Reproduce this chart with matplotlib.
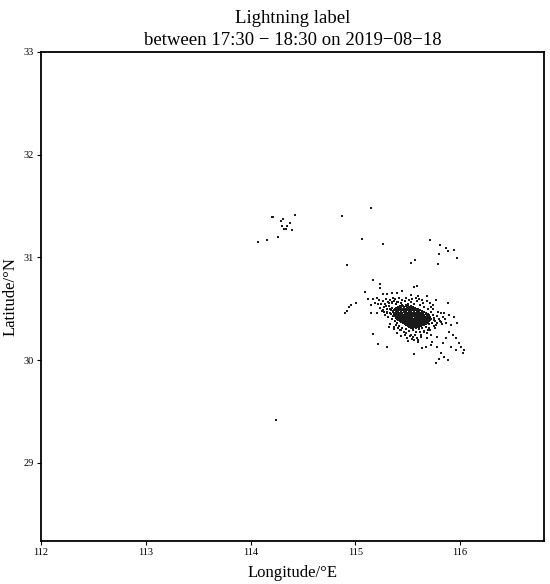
import matplotlib
matplotlib.use("Agg")
import matplotlib.pyplot as plt

# scattered strokes
scatter_lon = [
    114.20, 114.21, 114.311, 114.291, 114.423, 114.375, 114.304, 114.352,
    114.323, 114.342, 114.394, 114.260, 114.154, 114.071,
    114.870, 115.152, 115.068, 115.260, 114.924,
    115.708, 115.809, 115.867, 115.938, 115.880, 115.797, 115.966, 115.787,
    115.567, 115.528, 115.171, 115.231, 115.231, 115.560, 115.593,
    114.24,
    115.094, 115.263, 115.305, 115.353, 115.394, 115.449, 115.528, 115.598,
    115.688, 115.123, 115.171, 115.209, 115.768, 115.880, 115.011,
    114.960, 114.937, 114.898, 114.921,
    115.145, 115.186, 115.241, 115.289, 115.321, 115.353, 115.401,
    115.145, 115.209, 115.272, 115.305, 115.330,
    115.848, 115.896, 115.944, 115.752, 115.816, 115.864, 115.912, 115.969,
    115.171, 115.321, 115.368, 115.432, 115.480, 115.528, 115.560, 115.598,
    115.219, 115.305, 115.560, 115.640, 115.672, 115.720, 115.784, 115.832,
    115.816, 115.848, 115.880, 115.800, 115.768,
    115.912, 115.960, 116.008, 115.992, 116.024, 116.039,
    115.656, 115.720, 115.784, 115.688, 115.736, 115.624,
    115.896, 115.928, 115.864, 115.960,
]
scatter_lat = [
    31.397, 31.397, 31.375, 31.355, 31.414, 31.336, 31.310, 31.310,
    31.277, 31.277, 31.268, 31.197, 31.167, 31.148,
    31.407, 31.479, 31.177, 31.128, 30.927,
    31.167, 31.119, 31.095, 31.076, 31.066, 31.031, 30.998, 30.940,
    30.979, 30.949, 30.781, 30.739, 30.706, 30.716, 30.726,
    29.42,
    30.667, 30.645, 30.645, 30.652, 30.657, 30.671, 30.632, 30.625,
    30.625, 30.593, 30.593, 30.603, 30.586, 30.560, 30.560,
    30.538, 30.515, 30.463, 30.482,
    30.538, 30.554, 30.544, 30.528, 30.554, 30.570, 30.570,
    30.457, 30.463, 30.473, 30.457, 30.496,
    30.457, 30.440, 30.424, 30.392, 30.375, 30.360, 30.343, 30.365,
    30.255, 30.320, 30.301, 30.294, 30.262, 30.246, 30.197, 30.181,
    30.158, 30.132, 30.061, 30.116, 30.126, 30.148, 30.132, 30.165,
    30.068, 30.029, 30.003, 30.009, 29.970,
    30.132, 30.100, 30.126, 30.165, 30.068, 30.100,
    30.278, 30.246, 30.229, 30.213, 30.181, 30.229,
    30.278, 30.246, 30.213, 30.213,
]

# halo around the dense core
halo_lon = [
    115.26, 115.29, 115.31, 115.33, 115.35, 115.37, 115.39, 115.41, 115.44,
    115.47, 115.50, 115.53, 115.56, 115.59, 115.62, 115.65, 115.27, 115.30,
    115.32, 115.34, 115.33, 115.35, 115.30, 115.28,
    115.72, 115.74, 115.75, 115.76, 115.73, 115.70, 115.78, 115.80, 115.77,
    115.69, 115.66, 115.72, 115.79,
    115.40, 115.38, 115.42, 115.45, 115.48, 115.51, 115.55, 115.58, 115.61,
    115.64, 115.67, 115.70, 115.62, 115.66, 115.57, 115.52, 115.46, 115.43,
    115.35, 115.36,
    # second pass, looser ring
    115.22, 115.24, 115.25, 115.28, 115.23, 115.36, 115.38, 115.42, 115.45,
    115.48, 115.51, 115.54, 115.58, 115.61, 115.64, 115.68, 115.71, 115.74,
    115.82, 115.84, 115.81, 115.78, 115.75, 115.71, 115.68, 115.63, 115.59,
    115.54, 115.49, 115.44, 115.40, 115.37, 115.33, 115.31, 115.29, 115.26,
    115.34, 115.39, 115.47, 115.55, 115.63, 115.69, 115.76, 115.83, 115.86,
    115.74, 115.60, 115.50, 115.41,
]
halo_lat = [
    30.58, 30.60, 30.57, 30.59, 30.56, 30.58, 30.55, 30.57, 30.56,
    30.58, 30.55, 30.57, 30.55, 30.58, 30.54, 30.56, 30.52, 30.50,
    30.53, 30.49, 30.46, 30.51, 30.47, 30.44,
    30.47, 30.44, 30.41, 30.38, 30.36, 30.35, 30.43, 30.40, 30.34,
    30.50, 30.52, 30.52, 30.47,
    30.36, 30.38, 30.33, 30.31, 30.30, 30.28, 30.29, 30.27, 30.30,
    30.31, 30.32, 30.31, 30.27, 30.28, 30.25, 30.24, 30.27, 30.29,
    30.40, 30.43,
    30.55, 30.51, 30.48, 30.55, 30.59, 30.61, 30.60, 30.61, 30.59,
    30.61, 30.59, 30.60, 30.61, 30.60, 30.59, 30.58, 30.56, 30.54,
    30.46, 30.42, 30.38, 30.36, 30.33, 30.29, 30.26, 30.24, 30.22,
    30.21, 30.22, 30.24, 30.26, 30.32, 30.35, 30.42, 30.53, 30.49,
    30.45, 30.34, 30.25, 30.23, 30.25, 30.29, 30.31, 30.35, 30.40,
    30.50, 30.20, 30.19, 30.31,
]

# dense core, row by row (latitude, longitudes)
core_rows = [
    (30.54, [115.45, 115.48]),
    (30.53, [115.43, 115.455, 115.48, 115.505, 115.53]),
    (30.52, [115.41, 115.44, 115.465, 115.49, 115.52, 115.55]),
    (30.51, [115.39, 115.415, 115.44, 115.465, 115.49, 115.515, 115.54, 115.565]),
    (30.50, [115.38, 115.405, 115.43, 115.455, 115.48, 115.505, 115.53, 115.555,
             115.58, 115.60]),
    (30.49, [115.37, 115.395, 115.42, 115.445, 115.47, 115.495, 115.52, 115.545,
             115.57, 115.595, 115.62]),
    (30.48, [115.36, 115.385, 115.41, 115.435, 115.46, 115.485, 115.51, 115.535,
             115.56, 115.585, 115.61, 115.635]),
    (30.47, [115.36, 115.385, 115.41, 115.435, 115.46, 115.485, 115.51, 115.535,
             115.56, 115.585, 115.61, 115.635, 115.66]),
    (30.46, [115.375, 115.40, 115.425, 115.45, 115.475, 115.50, 115.525, 115.55,
             115.575, 115.60, 115.625, 115.65, 115.675]),
    (30.45, [115.37, 115.395, 115.42, 115.445, 115.47, 115.495, 115.52, 115.545,
             115.57, 115.595, 115.62, 115.645, 115.67, 115.695]),
    (30.44, [115.385, 115.41, 115.435, 115.46, 115.485, 115.51, 115.535, 115.56,
             115.585, 115.61, 115.635, 115.66, 115.685, 115.70]),
    (30.43, [115.38, 115.405, 115.43, 115.455, 115.48, 115.505, 115.53, 115.555,
             115.58, 115.605, 115.63, 115.655, 115.68, 115.705]),
    (30.42, [115.395, 115.42, 115.445, 115.47, 115.495, 115.52, 115.545, 115.57,
             115.595, 115.62, 115.645, 115.67, 115.695, 115.715]),
    (30.41, [115.39, 115.415, 115.44, 115.465, 115.49, 115.515, 115.54, 115.565,
             115.59, 115.615, 115.64, 115.665, 115.69, 115.715]),
    (30.40, [115.40, 115.425, 115.45, 115.475, 115.50, 115.525, 115.55, 115.575,
             115.60, 115.625, 115.65, 115.675, 115.70, 115.72]),
    (30.39, [115.41, 115.435, 115.46, 115.485, 115.51, 115.535, 115.56, 115.585,
             115.61, 115.635, 115.66, 115.685, 115.71]),
    (30.38, [115.425, 115.45, 115.475, 115.50, 115.525, 115.55, 115.575, 115.60,
             115.625, 115.65, 115.675, 115.70]),
    (30.37, [115.44, 115.465, 115.49, 115.515, 115.54, 115.565, 115.59, 115.615,
             115.64, 115.665, 115.69]),
    (30.36, [115.455, 115.48, 115.505, 115.53, 115.555, 115.58, 115.605, 115.63,
             115.655, 115.68]),
    (30.35, [115.47, 115.495, 115.52, 115.545, 115.57, 115.595, 115.62, 115.645,
             115.67]),
    (30.34, [115.485, 115.51, 115.535, 115.56, 115.585, 115.61, 115.635, 115.655]),
    (30.33, [115.50, 115.525, 115.55, 115.575, 115.60, 115.625]),
    (30.32, [115.515, 115.54, 115.565, 115.59, 115.61]),
    (30.31, [115.53, 115.555, 115.58]),
]

core_lon = []
core_lat = []
for lat, lons in core_rows:
    for lon in lons:
        core_lon.append(lon)
        core_lat.append(lat)

all_lon = scatter_lon + halo_lon + core_lon
all_lat = scatter_lat + halo_lat + core_lat

plt.rcParams['font.family'] = ['Liberation Serif', 'DejaVu Serif']

fig = plt.figure(figsize=(5.5, 5.84), dpi=100)
ax = fig.add_axes([0.0745, 0.0736, 0.9145, 0.8374])

ax.scatter(all_lon, all_lat, s=1.2, c='#1a1a1a', marker='s', linewidths=0)

ax.set_xlim(112, 116.8)
ax.set_ylim(28.24, 33)
ax.set_xticks([112, 113, 114, 115, 116])
ax.set_yticks([29, 30, 31, 32, 33])
ax.tick_params(direction='out', length=3, width=0.8, labelsize=7.5, pad=2)
for sp in ax.spines.values():
    sp.set_linewidth(1.3)

ax.set_xlabel('Longitude/°E', fontsize=12, labelpad=6)
ax.set_ylabel('Latitude/°N', fontsize=12, labelpad=4)
ax.set_title('Lightning label\nbetween 17:30 \u2212 18:30 on 2019\u221208\u221218',
             fontsize=13.5, pad=5, linespacing=1.4)

fig.savefig('out.png', dpi=100)
